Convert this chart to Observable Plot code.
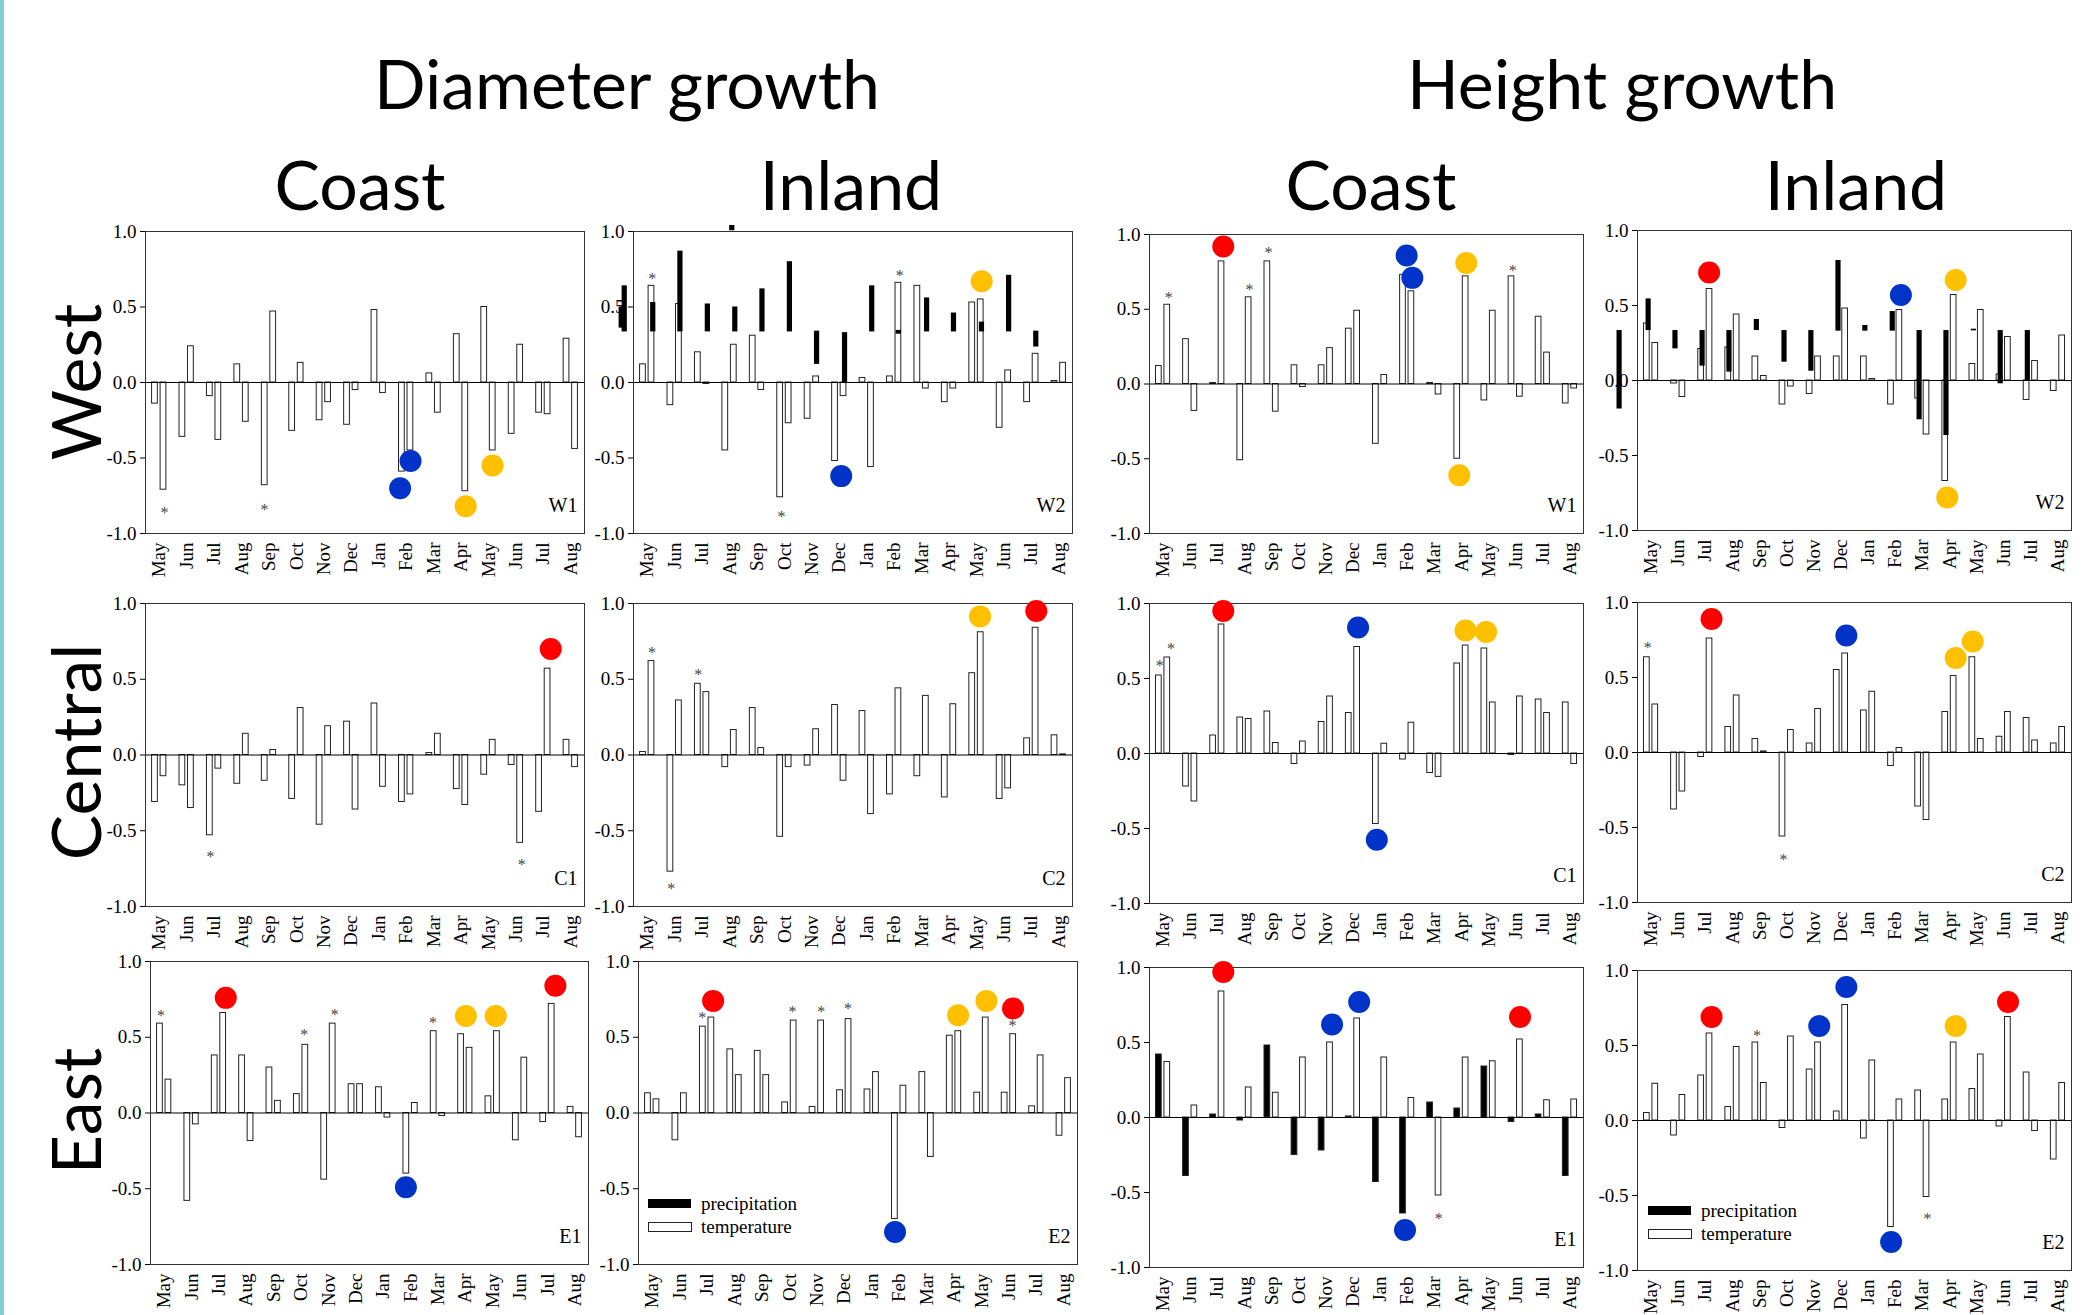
<!DOCTYPE html>
<html><head><meta charset="utf-8">
<script src="https://cdn.jsdelivr.net/npm/d3@7"></script>
<script src="https://cdn.jsdelivr.net/npm/@observablehq/plot@0.6"></script>
<style>
body{margin:0;background:#fff;}
#page{position:relative;width:2086px;height:1315px;overflow:hidden;background:#fff;}
.pn{position:absolute;}
.pn svg{max-width:none;}
#overlay{position:absolute;left:0;top:0;pointer-events:none;}
#teal{position:absolute;left:0;top:0;width:4px;height:1315px;background:#86cfd0;}
</style></head>
<body><div id="page"><div id="teal"></div></div>
<script>
// ---------- data ----------
const months = ["May","Jun","Jul","Aug","Sep","Oct","Nov","Dec","Jan","Feb","Mar","Apr","May","Jun","Jul","Aug"];
const yTicks = [-1, -0.5, 0, 0.5, 1];
const groupTitles = ["Diameter growth", "Height growth"];
const siteTitles = ["Coast", "Inland", "Coast", "Inland"];
const rowTitles = ["West", "Central", "East"];
const legendLabels = ["precipitation", "temperature"];

// Diameter growth, West, Coast (W1)
const dW1L = [-0.14,-0.36,-0.09,0.12,-0.68,-0.32,-0.25,-0.28,0.48,-0.59,0.06,0.32,0.50,-0.34,-0.20,0.29];
const dW1R = [-0.71,0.24,-0.38,-0.26,0.47,0.13,-0.13,-0.05,-0.07,-0.45,-0.20,-0.72,-0.45,0.25,-0.21,-0.44];
const dW1S = [[0.19,-0.83],[3.84,-0.81]];
const dW1D = [[9.16,-0.52,"blue"],[8.78,-0.70,"blue"],[11.17,-0.82,"yellow"],[12.15,-0.55,"yellow"]];
// Diameter growth, West, Inland (W2)
const dW2L = [0.12,-0.15,0.20,-0.45,0.31,-0.76,-0.24,-0.52,0.03,0.04,0.64,-0.13,0.53,-0.30,-0.13,0.01];
const dW2R = [0.64,0.52,-0.01,0.25,-0.05,-0.27,0.04,-0.09,-0.56,0.66,-0.04,-0.04,0.55,0.08,0.19,0.13];
const dW2P = [[-0.82,0.335,0.64],[-0.93,0.36,0.50],[0.22,0.335,0.53],[1.21,0.335,0.87],[2.21,0.335,0.52],[3.21,0.335,0.50],[3.10,1.005,1.04],[4.20,0.335,0.62],[5.20,0.335,0.80],[6.19,0.12,0.34],[7.21,0.0,0.33],[8.20,0.335,0.64],[9.17,0.32,0.345],[10.20,0.335,0.56],[11.18,0.335,0.46],[12.20,0.335,0.40],[13.19,0.335,0.71],[14.18,0.235,0.34]];
const dW2S = [[0.18,0.72],[4.89,-0.86],[9.20,0.74]];
const dW2D = [[12.19,0.67,"yellow"],[7.07,-0.62,"blue"]];
// Height growth, West, Coast (W1)
const hW1L = [0.12,0.30,0.007,-0.51,0.82,0.125,0.125,0.37,-0.40,0.73,0.007,-0.50,-0.11,0.72,0.45,-0.13];
const hW1R = [0.53,-0.18,0.82,0.58,-0.185,-0.02,0.24,0.49,0.06,0.62,-0.07,0.72,0.49,-0.085,0.21,-0.03];
const hW1S = [[0.21,0.61],[3.19,0.66],[3.89,0.91],[12.89,0.79]];
const hW1D = [[2.22,0.92,"red"],[8.98,0.86,"blue"],[9.19,0.71,"blue"],[11.18,0.81,"yellow"],[10.92,-0.61,"yellow"]];
// Height growth, West, Inland (W2)
const hW2L = [0.38,-0.02,0.21,0.22,0.16,-0.16,-0.09,0.16,0.16,-0.16,-0.12,-0.67,0.11,0.04,-0.13,-0.07];
const hW2R = [0.25,-0.11,0.61,0.44,0.03,-0.04,0.16,0.48,0.01,0.47,-0.36,0.57,0.47,0.29,0.13,0.30];
const hW2P = [[-1.16,-0.19,0.333],[-0.09,0.333,0.544],[0.90,0.211,0.333],[1.90,0.096,0.333],[2.89,0.056,0.333],[3.90,0.333,0.407],[4.92,0.122,0.333],[5.91,0.062,0.333],[6.91,0.329,0.80],[7.90,0.329,0.367],[8.91,0.329,0.46],[9.90,-0.262,0.333],[10.89,-0.367,0.333],[11.90,0.331,0.342],[12.89,-0.022,0.333],[13.89,0.0,0.333]];
const hW2D = [[2.14,0.72,"red"],[9.21,0.57,"blue"],[11.23,0.67,"yellow"],[10.92,-0.78,"yellow"]];
// Diameter growth, Central, Coast (C1)
const dC1L = [-0.31,-0.20,-0.53,-0.19,-0.17,-0.29,-0.46,0.22,0.34,-0.31,0.013,-0.225,-0.13,-0.066,-0.375,0.10];
const dC1R = [-0.14,-0.35,-0.09,0.14,0.033,0.31,0.19,-0.36,-0.21,-0.26,0.14,-0.33,0.10,-0.58,0.57,-0.08];
const dC1S = [[1.87,-0.64],[13.21,-0.69]];
const dC1D = [[14.27,0.70,"red"]];
// Diameter growth, Central, Inland (C2)
const dC2L = [0.02,-0.77,0.47,-0.08,0.31,-0.54,-0.07,0.33,0.29,-0.26,-0.14,-0.28,0.54,-0.29,0.11,0.13];
const dC2R = [0.62,0.36,0.415,0.165,0.046,-0.08,0.17,-0.17,-0.39,0.44,0.39,0.335,0.81,-0.22,0.84,0.004];
const dC2S = [[0.17,0.71],[0.88,-0.85],[1.86,0.56]];
const dC2D = [[12.13,0.915,"yellow"],[14.18,0.95,"red"]];
// Height growth, Central, Coast (C1)
const hC1L = [0.52,-0.22,0.12,0.24,0.28,-0.07,0.21,0.27,-0.47,-0.04,-0.13,0.60,0.70,-0.01,0.36,0.34];
const hC1R = [0.64,-0.32,0.86,0.23,0.07,0.08,0.38,0.71,0.065,0.205,-0.156,0.72,0.34,0.38,0.27,-0.07];
const hC1S = [[-0.12,0.615],[0.29,0.733]];
const hC1D = [[2.22,0.95,"red"],[7.19,0.84,"blue"],[7.88,-0.575,"blue"],[11.15,0.82,"yellow"],[11.91,0.81,"yellow"]];
// Height growth, Central, Inland (C2)
const hC2L = [0.635,-0.38,-0.03,0.17,0.09,-0.56,0.06,0.55,0.28,-0.09,-0.36,0.27,0.635,0.105,0.23,0.06];
const hC2R = [0.32,-0.26,0.76,0.38,0.007,0.15,0.29,0.66,0.405,0.03,-0.45,0.51,0.09,0.27,0.08,0.17];
const hC2S = [[-0.12,0.73],[4.88,-0.68]];
const hC2D = [[2.23,0.89,"red"],[7.20,0.78,"blue"],[11.23,0.63,"yellow"],[11.86,0.74,"yellow"]];
// Diameter growth, East, Coast (E1)
const dE1L = [0.59,-0.58,0.38,0.38,0.30,0.125,-0.44,0.19,0.17,-0.40,0.54,0.52,0.11,-0.18,-0.06,0.04];
const dE1R = [0.22,-0.075,0.66,-0.185,0.08,0.45,0.59,0.19,-0.03,0.066,-0.02,0.43,0.54,0.365,0.72,-0.16];
const dE1S = [[-0.12,0.675],[5.12,0.55],[6.23,0.68],[9.82,0.63]];
const dE1D = [[2.25,0.76,"red"],[8.83,-0.49,"blue"],[11.02,0.64,"yellow"],[12.11,0.64,"yellow"],[14.29,0.84,"red"]];
// Diameter growth, East, Inland (E2)
const dE2L = [0.13,-0.18,0.57,0.42,0.41,0.07,0.04,0.15,0.155,-0.70,0.27,0.51,0.134,0.134,0.044,-0.15];
const dE2R = [0.09,0.13,0.63,0.25,0.25,0.61,0.61,0.62,0.27,0.18,-0.29,0.54,0.63,0.52,0.38,0.23];
const dE2S = [[1.82,0.66],[5.11,0.70],[6.16,0.70],[7.14,0.72],[13.13,0.61]];
const dE2D = [[2.22,0.74,"red"],[8.85,-0.785,"blue"],[11.15,0.645,"yellow"],[12.18,0.74,"yellow"],[13.15,0.69,"red"]];
// Height growth, East, Coast (E1): left = precipitation, right = temperature
const hE1P = [0.42,-0.39,0.02,-0.02,0.48,-0.25,-0.22,0.007,-0.43,-0.64,0.10,0.06,0.34,-0.03,0.02,-0.39];
const hE1T = [0.37,0.08,0.84,0.20,0.165,0.40,0.50,0.66,0.40,0.13,-0.52,0.40,0.375,0.52,0.115,0.12];
const hE1S = [[10.16,-0.645]];
const hE1D = [[2.22,0.97,"red"],[6.23,0.62,"blue"],[7.23,0.77,"blue"],[8.92,-0.75,"blue"],[13.16,0.67,"red"]];
// Height growth, East, Inland (E2)
const hE2L = [0.05,-0.10,0.30,0.09,0.52,-0.05,0.34,0.06,-0.12,-0.71,0.20,0.14,0.21,-0.04,0.32,-0.26];
const hE2R = [0.245,0.17,0.58,0.49,0.25,0.56,0.52,0.77,0.40,0.14,-0.51,0.52,0.44,0.69,-0.07,0.25];
const hE2S = [[3.91,0.60],[10.19,-0.62]];
const hE2D = [[2.23,0.69,"red"],[6.20,0.63,"blue"],[7.20,0.89,"blue"],[8.85,-0.81,"blue"],[11.23,0.63,"yellow"],[13.16,0.79,"red"]];

// ---------- styles / layout ----------
const dotColors = {red:"#fe0000", blue:"#0233c9", yellow:"#ffc000"};
const panels = [
  {id:"W1", L:dW1L, R:dW1R, P:[], S:dW1S, D:dW1D, box:[145,231,584,533]},
  {id:"W2", L:dW2L, R:dW2R, P:dW2P, S:dW2S, D:dW2D, box:[633,231,1072,533]},
  {id:"W1", L:hW1L, R:hW1R, P:[], S:hW1S, D:hW1D, box:[1149,234,1583,533]},
  {id:"W2", L:hW2L, R:hW2R, P:hW2P, S:[], D:hW2D, box:[1637,230,2071,530]},
  {id:"C1", L:dC1L, R:dC1R, P:[], S:dC1S, D:dC1D, box:[145,603,584,906]},
  {id:"C2", L:dC2L, R:dC2R, P:[], S:dC2S, D:dC2D, box:[633,603,1072,906]},
  {id:"C1", L:hC1L, R:hC1R, P:[], S:hC1S, D:hC1D, box:[1149,603,1583,903]},
  {id:"C2", L:hC2L, R:hC2R, P:[], S:hC2S, D:hC2D, box:[1637,602,2071,902]},
  {id:"E1", L:dE1L, R:dE1R, P:[], S:dE1S, D:dE1D, box:[150,961,588,1264]},
  {id:"E2", L:dE2L, R:dE2R, P:[], S:dE2S, D:dE2D, box:[638,961,1077,1264], legend:true},
  {id:"E1", L:hE1P, R:hE1T, P:[], S:hE1S, D:hE1D, box:[1149,967,1583,1267], leftBlack:true},
  {id:"E2", L:hE2L, R:hE2R, P:[], S:hE2S, D:hE2D, box:[1637,970,2071,1270], legend:true}
];

const page = document.getElementById("page");
const idx = d3.range(months.length);
const ml = 70, mr = 12, mt = 16, mb = 62;

panels.forEach(p => {
  const [x0, y0, x1, y1] = p.box;
  const chart = Plot.plot({
    width: x1 - x0 + ml + mr,
    height: y1 - y0 + mt + mb,
    marginLeft: ml, marginRight: mr, marginTop: mt, marginBottom: mb,
    x: {type: "linear", domain: [-0.5, 15.5]},
    y: {domain: [-1, 1]},
    style: {fontFamily: "'Liberation Serif', 'Times New Roman', serif", fontSize: "19px", background: "transparent", overflow: "visible", color: "#000"},
    marks: [
      Plot.axisY(yTicks, {tickFormat: d => d.toFixed(1), tickSize: 5, tickPadding: 4, label: null}),
      Plot.axisX(idx, {tickFormat: i => months[i], tickRotate: -90, tickSize: 0, tickPadding: 9, label: null}),
      Plot.rect(idx, {x1: i => i - 0.26, x2: i => i - 0.05, y1: () => 0, y2: i => p.L[i], fill: p.leftBlack ? "#000" : "#fff", stroke: "#222", strokeWidth: 1}),
      Plot.rect(idx, {x1: i => i + 0.05, x2: i => i + 0.26, y1: () => 0, y2: i => p.R[i], fill: "#fff", stroke: "#222", strokeWidth: 1}),
      Plot.rect(p.P, {x1: d => d[0] - 0.095, x2: d => d[0] + 0.095, y1: d => d[1], y2: d => d[2], fill: "#000"}),
      Plot.ruleY([0], {stroke: "#000", strokeWidth: 1}),
      Plot.frame({stroke: "#333", strokeWidth: 1}),
      Plot.text(p.S, {x: d => d[0], y: d => d[1], text: () => "*", fontSize: 16, fill: "#444", dy: 5}),
      Plot.dot(p.D, {x: d => d[0], y: d => d[1], r: 11, fill: d => dotColors[d[2]], stroke: "none"}),
      Plot.text([p.id], {frameAnchor: "bottom-right", dx: -7, dy: -22, textAnchor: "end", lineAnchor: "bottom", fontSize: 20})
    ]
  });
  const div = document.createElement("div");
  div.className = "pn";
  div.style.left = (x0 - ml) + "px";
  div.style.top = (y0 - mt) + "px";
  div.appendChild(chart);
  page.appendChild(div);
});

// ---------- titles, row labels, legends ----------
const svg = d3.select(page).append("svg").attr("id", "overlay").attr("width", 2086).attr("height", 1315);
const big = {family: "Lato, 'Noto Sans', sans-serif", size: 68};
[[groupTitles[0], 627], [groupTitles[1], 1622]].forEach(([t, x]) =>
  svg.append("text").attr("x", x).attr("y", 109).attr("text-anchor", "middle")
    .attr("font-family", big.family).attr("font-size", big.size).text(t));
[360, 851, 1371, 1856].forEach((x, i) =>
  svg.append("text").attr("x", x).attr("y", 210).attr("text-anchor", "middle")
    .attr("font-family", big.family).attr("font-size", big.size).text(siteTitles[i]));
[382, 752, 1111].forEach((y, i) =>
  svg.append("text").attr("transform", `translate(101,${y}) rotate(-90)`).attr("text-anchor", "middle")
    .attr("font-family", big.family).attr("font-size", big.size).text(rowTitles[i]));

[[648, 1199], [1648, 1206]].forEach(([lx, ly]) => {
  const g = svg.append("g");
  g.append("rect").attr("x", lx).attr("y", ly).attr("width", 43).attr("height", 9).attr("fill", "#000");
  g.append("rect").attr("x", lx + 0.5).attr("y", ly + 23.5).attr("width", 43).attr("height", 9).attr("fill", "#fff").attr("stroke", "#222");
  g.append("text").attr("x", lx + 53).attr("y", ly + 11).attr("font-family", "'Liberation Serif', serif").attr("font-size", 19).text(legendLabels[0]);
  g.append("text").attr("x", lx + 53).attr("y", ly + 34).attr("font-family", "'Liberation Serif', serif").attr("font-size", 19).text(legendLabels[1]);
});
</script>
</body></html>
